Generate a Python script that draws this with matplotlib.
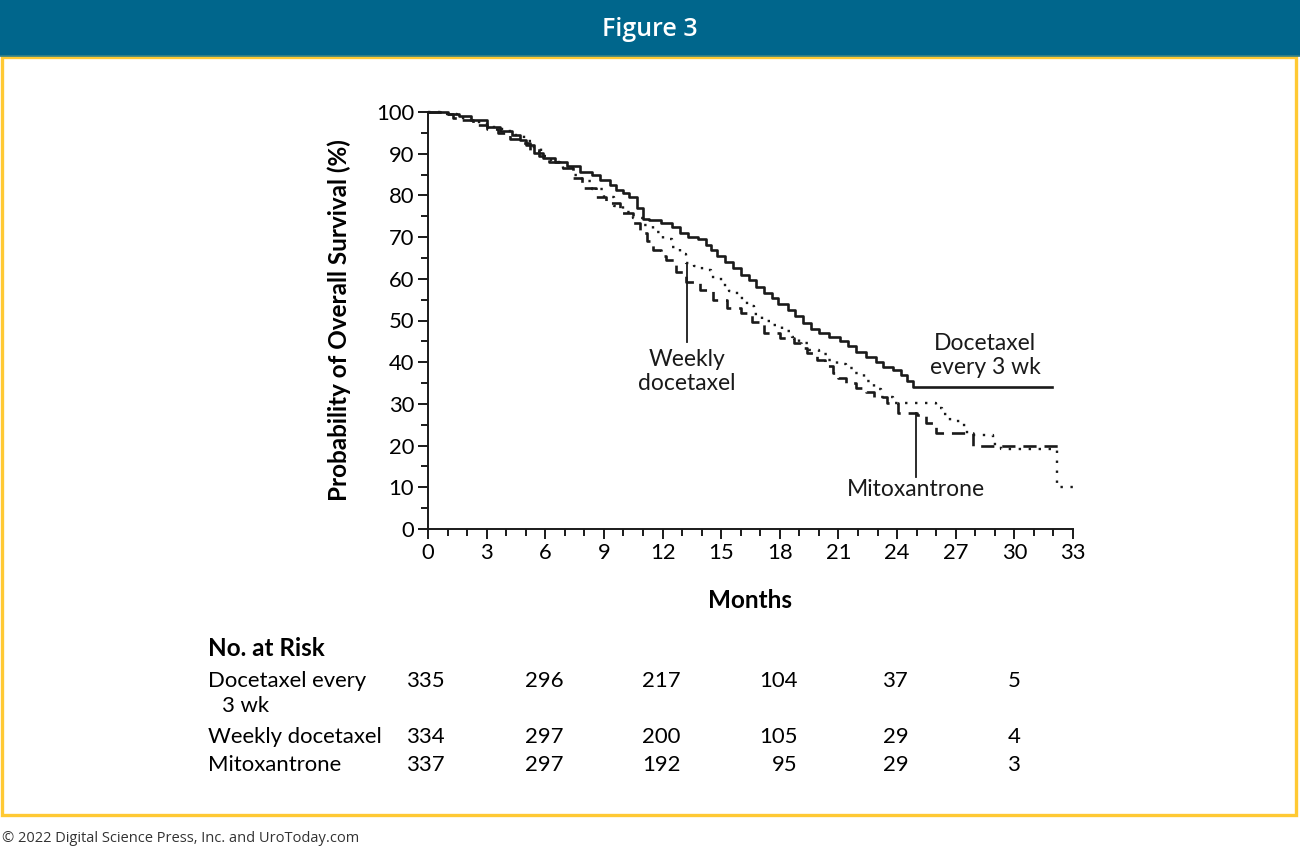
import matplotlib
matplotlib.use('Agg')
import matplotlib.pyplot as plt
from matplotlib.patches import Rectangle
from matplotlib.lines import Line2D

plt.rcParams['font.family'] = ['Lato', 'DejaVu Sans']

W, H = 1300, 850

# Kaplan-Meier step data (months, % surviving)
q3w_t = [0, 1.0, 1.6, 2.2, 3.0, 3.7, 4.3, 4.7, 5.0, 5.4, 5.9, 6.5, 7.1, 7.8, 8.4, 8.8, 9.3, 9.6,
         10.0, 10.3, 10.7, 11.0, 11.3, 11.9, 12.5, 12.9, 13.3, 13.8, 14.2, 14.5, 14.8, 15.2, 15.6,
         16.0, 16.4, 16.8, 17.2, 17.6, 17.9, 18.4, 18.8, 19.2, 19.6, 20.0, 20.5, 21.1, 21.5, 21.9,
         22.4, 22.9, 23.3, 23.8, 24.2, 24.5, 24.8, 31.9]
q3w_s = [100, 99.5, 99, 98, 96.5, 95.5, 94.5, 93.3, 92, 90.2, 89, 88, 87, 85.7, 85, 83.7, 82.5, 81.3,
         80.5, 79.7, 77, 74.3, 74.1, 73.3, 72.5, 71, 70.1, 69.5, 68, 66.9, 65.5, 64, 62.5,
         61, 59.7, 58, 56.5, 55.5, 54, 52.5, 51, 49.5, 48, 47, 46, 45, 44, 42.5,
         41.3, 40, 38.8, 38.1, 37, 35.5, 34.1, 34.1]

weekly_t = [0, 0.8, 1.5, 2.2, 3.0, 3.8, 4.4, 4.9, 5.3, 5.8, 6.3, 6.9, 7.4, 7.9, 8.4, 9.0, 9.5, 10.0,
            10.5, 11.0, 11.5, 12.0, 12.5, 12.9, 13.2, 13.6, 14.0, 14.5, 15.0, 15.4, 15.8, 16.3, 16.7,
            17.1, 17.6, 18.1, 18.6, 19.0, 19.5, 20.0, 20.4, 20.9, 21.4, 21.8, 22.3, 22.8, 23.2, 23.8,
            26.0, 26.3, 26.7, 27.2, 27.6, 28.9, 29.3, 32.2, 33.0]
weekly_s = [100, 99.5, 98.5, 97.5, 96.5, 95.5, 94.5, 93, 91.5, 89.5, 88, 86.5, 85, 83.5, 81.5, 79.5, 77.5, 76,
            74.5, 73, 71.2, 69.5, 67.7, 66, 63.8, 63, 62, 60.5, 58.5, 57, 55.5, 53.5, 51.5,
            50, 49, 47.5, 46, 44.5, 43, 42, 40.5, 39.5, 38.5, 37.4, 35.5, 33.5, 31.7, 30.2,
            29, 27.5, 26, 25, 22.5, 20.5, 19.3, 10, 10]

mito_t = [0, 0.7, 1.3, 1.7, 2.3, 3.0, 3.6, 4.2, 4.7, 5.2, 5.7, 6.2, 6.75, 7.4, 7.9, 8.6, 9.1, 9.8,
          10.5, 10.85, 11.2, 11.5, 11.9, 12.2, 12.7, 13.2, 13.9, 14.6, 15.3, 16.0, 16.6, 17.2, 18.0,
          18.7, 19.1, 19.4, 19.9, 20.3, 20.7, 21.0, 21.4, 21.9, 22.4, 22.8, 23.5, 24.05, 25.0, 25.5,
          26.0, 27.9, 32.4]
mito_s = [100, 99.5, 98.5, 98, 97, 96, 95, 93.5, 92.5, 91, 89.5, 88, 86.5, 84.2, 81.8, 79.7, 78.1, 75.8,
          73.3, 71, 69, 66.9, 65.5, 64.5, 61.7, 59.3, 57.3, 55, 53, 51.8, 49.7, 47, 45.8,
          44.6, 43.5, 42.2, 40.5, 39, 37.4, 36.2, 35, 33.8, 32.8, 31.7, 30.2, 27.8, 27.3, 25.4,
          23, 19.8, 19.8]

# number at risk table
risk_months = [0, 6, 12, 18, 24, 30]
risk_labels = ['Docetaxel every', 'Weekly docetaxel', 'Mitoxantrone']
risk_q3w = [335, 296, 217, 104, 37, 5]
risk_weekly = [334, 297, 200, 105, 29, 4]
risk_mito = [337, 297, 192, 95, 29, 3]


def fy(y):
    return 1 - y / H


fig = plt.figure(figsize=(13, 8.5), dpi=100)

# header band + yellow frame
fig.patches.append(Rectangle((0, fy(56)), 1, 56 / H, transform=fig.transFigure,
                             facecolor='#00668c', edgecolor='none', zorder=0))
fig.lines.append(Line2D([0, 1], [fy(56), fy(56)], transform=fig.transFigure,
                        color='#2f7f86', lw=1.2))
fig.patches.append(Rectangle((1.5 / W, fy(815)), 1294.5 / W, (815 - 57) / H,
                             transform=fig.transFigure, facecolor='none',
                             edgecolor='#ffc933', lw=2.4, zorder=0))
fig.text(650 / W, fy(30), 'Figure 3', color='white', fontsize=18, fontweight='semibold',
         family=['Open Sans', 'DejaVu Sans'], ha='center', va='center')
fig.text(2 / W, fy(838), '\u00a9 2022 Digital Science Press, Inc. and UroToday.com',
         fontsize=10.5, color='#333333', family=['Open Sans', 'DejaVu Sans'],
         ha='left', va='center')

ax = fig.add_axes([428 / W, fy(529), 645 / W, 417 / H])
lw = 1.9
ax.step(q3w_t, q3w_s, where='post', color='#1a1a1a', lw=lw, clip_on=False)
ax.step(weekly_t, weekly_s, where='post', color='#1a1a1a', lw=lw * 0.9,
        linestyle=(0, (1, 3.2)), clip_on=False)
ax.step(mito_t, mito_s, where='post', color='#1a1a1a', lw=lw,
        linestyle=(0, (5, 3)), clip_on=False)

ax.set_xlim(0, 33)
ax.set_ylim(0, 100)
for s in ['top', 'right']:
    ax.spines[s].set_visible(False)
for s in ['left', 'bottom']:
    ax.spines[s].set_linewidth(1.4)
    ax.spines[s].set_color('#1a1a1a')
ax.set_xticks(range(0, 34, 3))
ax.set_xticks(range(0, 34), minor=True)
ax.set_yticks(range(0, 101, 10))
ax.set_yticks(range(5, 100, 10), minor=True)
ax.tick_params(which='major', length=7, width=1.4, labelsize=15.8, color='#1a1a1a',
               pad=3)
ax.tick_params(which='minor', length=5, width=1.4, color='#1a1a1a')
ax.set_ylabel('Probability of Overall Survival (%)', fontsize=17.5, fontweight='bold')
ax.yaxis.set_label_coords(-0.119, 0.5)
ax.set_xlabel('Months', fontsize=17.5, fontweight='bold')
ax.xaxis.set_label_coords(0.499, -0.145)

# curve labels
txt = dict(fontsize=16.5, ha='center', color='#1a1a1a', linespacing=1.15)
ax.plot([13.23, 13.23], [63.7, 44.8], color='#1a1a1a', lw=1.3)
ax.text(13.23, 37.8, 'Weekly\ndocetaxel', va='center', **txt)
ax.plot([24.97, 24.97], [27.8, 12.5], color='#1a1a1a', lw=1.3)
ax.text(24.97, 9.4, 'Mitoxantrone', va='center', **txt)
ax.text(28.5, 41.6, 'Docetaxel\nevery 3 wk', va='center', **txt)

# No. at risk
fs = 15.9
fig.text(208 / W, fy(656), 'No. at Risk', fontsize=17.5, fontweight='bold', va='baseline')
fig.text(208 / W, fy(687), risk_labels[0], fontsize=fs, va='baseline')
fig.text(222 / W, fy(712), '3 wk', fontsize=fs, va='baseline')
fig.text(208 / W, fy(743), risk_labels[1], fontsize=fs, va='baseline')
fig.text(208 / W, fy(771), risk_labels[2], fontsize=fs, va='baseline')
row_y = [687, 743, 771]
rows = [risk_q3w, risk_weekly, risk_mito]
for j, m in enumerate(risk_months):
    width = max(len(str(r[j])) for r in rows)
    for vals, yy in zip(rows, row_y):
        ax.annotate(str(vals[j]), xy=(m, fy(yy)), xycoords=('data', 'figure fraction'),
                    xytext=(width * 6.0, 0), textcoords='offset pixels',
                    ha='right', va='baseline', fontsize=fs, annotation_clip=False)

fig.savefig('out.png', dpi=100)
